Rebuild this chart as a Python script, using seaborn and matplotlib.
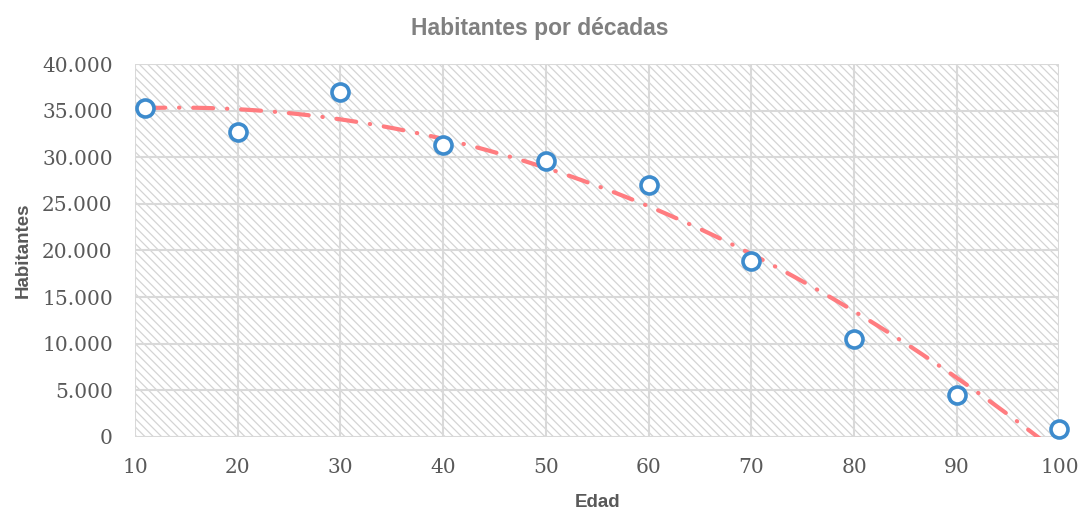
import numpy as np
import pandas as pd
import matplotlib
matplotlib.use("Agg")
import matplotlib.pyplot as plt
from matplotlib.ticker import FuncFormatter, MultipleLocator
import seaborn as sns

edad = [11, 20, 30, 40, 50, 60, 70, 80, 90, 100]
habitantes = [35300, 32700, 37000, 31300, 29600, 27000, 18900, 10500, 4500, 900]

title = "Habitantes por décadas"
xlabel = "Edad"
ylabel = "Habitantes"

sns.set_theme(style="white")
plt.rcParams['hatch.color'] = '#d4d4d4'
plt.rcParams['hatch.linewidth'] = 0.9

df = pd.DataFrame({"Edad": edad, "Habitantes": habitantes})

fig = plt.figure(figsize=(10.8, 5.12), dpi=100)
ax = fig.add_axes([0.125, 0.1465, 0.856, 0.7285])

ax.set_facecolor('white')
ax.patch.set_hatch('\\\\\\\\')
ax.patch.set_edgecolor('#d4d4d4')

ax.set_xlim(10, 100)
ax.set_ylim(0, 40000)
ax.xaxis.set_major_locator(MultipleLocator(10))
ax.yaxis.set_major_locator(MultipleLocator(5000))
ax.yaxis.set_major_formatter(FuncFormatter(lambda v, p: f"{int(v):,}".replace(",", ".")))

ax.grid(True, color='#d9d9d9', linewidth=1.5)
ax.set_axisbelow(True)
for s in ax.spines.values():
    s.set_visible(False)

sns.regplot(data=df, x="Edad", y="Habitantes", order=2, ci=None, scatter=False,
            truncate=True, ax=ax,
            line_kws=dict(color='#ff7c80', linewidth=3,
                          linestyle=(0, (4.8, 3.3, 0.1, 3.3)),
                          dash_capstyle='round', zorder=3))

sns.scatterplot(data=df, x="Edad", y="Habitantes", ax=ax, s=150,
                facecolor='white', edgecolor='#3d8bcd', linewidth=2.6,
                zorder=4, clip_on=False)

ax.tick_params(axis='both', length=0, labelsize=14.5, labelcolor='#595959')
ax.tick_params(axis='y', pad=16)
ax.tick_params(axis='x', pad=15)
for lab in ax.get_xticklabels() + ax.get_yticklabels():
    lab.set_family(['DejaVu Serif'])

ax.set_xlabel(xlabel, family=['Liberation Sans'], fontsize=13.5,
              fontweight='bold', color='#595959')
ax.set_ylabel(ylabel, family=['Liberation Sans'], fontsize=13.5,
              fontweight='bold', color='#595959')
ax.xaxis.set_label_coords(0.5, -0.153)
ax.yaxis.set_label_coords(-0.112, 0.5)
fig.text(0.5, 0.945, title, family=['Liberation Sans'], fontsize=16.5,
         fontweight='bold', color='#808080', ha='center', va='center')

fig.savefig("out.png", dpi=100)
